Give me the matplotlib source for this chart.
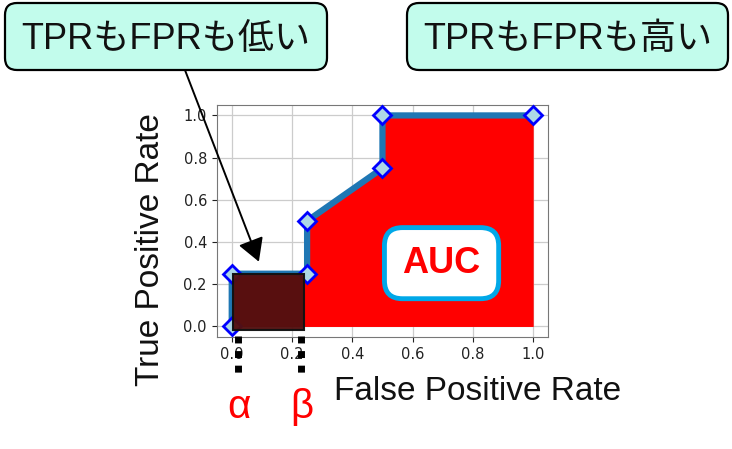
import matplotlib.pyplot as plt
from matplotlib.patches import FancyBboxPatch, Rectangle

# ROC curve points
fpr = [0.0, 0.0, 0.25, 0.25, 0.5, 0.5, 1.0]
tpr = [0.0, 0.25, 0.25, 0.5, 0.75, 1.0, 1.0]
ticks = [0.0, 0.2, 0.4, 0.6, 0.8, 1.0]

# highlighted low-threshold region and the alpha / beta markers
low_x = [0.005, 0.24]
low_y = [-0.015, 0.247]
alpha_x = 0.022
beta_x = 0.23

jp_font = ['Liberation Sans', 'Noto Sans CJK JP', 'DejaVu Sans']

fig = plt.figure(figsize=(7.32, 4.49), dpi=100)
ax = fig.add_axes([0.296, 0.2494, 0.453, 0.517])

ax.fill_between(fpr, tpr, 0, color='#ff0000', lw=0, zorder=1)
ax.plot(fpr, tpr, color='#1f77b4', lw=4.5, zorder=2)
ax.plot(fpr, tpr, ls='none', marker='D', ms=9.5, mfc='#add8e6', mec='#0000ff',
        mew=2, zorder=4, clip_on=False)
ax.add_patch(Rectangle((low_x[0], low_y[0]), low_x[1] - low_x[0], low_y[1] - low_y[0],
                       facecolor='#521010', edgecolor='#111111', lw=1.5, alpha=0.97,
                       zorder=5, clip_on=False))

ax.set_xlim(-0.05, 1.05)
ax.set_ylim(-0.05, 1.05)
ax.set_xticks(ticks)
ax.set_yticks(ticks)
ax.tick_params(labelsize=10.5, colors='#222222')
ax.grid(True, color='#cccccc', lw=0.9)
ax.set_axisbelow(True)
for s in ax.spines.values():
    s.set_color('#777777')

ax.text(0.696, 0.30, 'AUC', fontsize=26, fontweight='bold', color='#ff0000',
        family='Liberation Sans', ha='center', va='center', zorder=6,
        bbox=dict(boxstyle='round,pad=0.5,rounding_size=0.5', fc='white',
                  ec='#00a8e8', lw=3.5))

# dotted guides for alpha and beta
for x, lab in [(alpha_x, 'α'), (beta_x, 'β')]:
    ax.plot([x, x], [-0.044, -0.237], color='black', lw=5, ls=(0, (1, 1.1)),
            solid_capstyle='butt', dash_capstyle='butt', clip_on=False, zorder=6)
    ax.text(x + 0.003, -0.38, lab, fontsize=29, color='#ff0000', family='Liberation Sans',
            ha='center', va='center', clip_on=False)

fig.text(0.652, 0.109, 'False Positive Rate', fontsize=24, family='Liberation Sans',
         ha='center', va='baseline', color='#111111')
fig.text(0.2055, 0.445, 'True Positive Rate', fontsize=24, family='Liberation Sans',
         rotation=90, ha='center', va='center', color='#111111')

# callout boxes (in inches from the bottom-left corner)
r = 0.12
for (x0, x1), label in [((0.05, 3.27), 'TPRもFPRも低い'), ((4.07, 7.28), 'TPRもFPRも高い')]:
    y0, y1 = 3.79, 4.46
    fig.patches.append(FancyBboxPatch((x0 + r, y0 + r), x1 - x0 - 2 * r, y1 - y0 - 2 * r,
                                      boxstyle='round,pad=%g' % r, fc='#c2fcec', ec='black',
                                      lw=1.6, transform=fig.dpi_scale_trans, figure=fig))
    fig.text((x0 + x1) / 2 / 7.32, 1 - 39 / 449, label, fontsize=26, family=jp_font,
             ha='center', va='center', color='#111111')

arrow = dict(arrowstyle='-|>,head_length=0.7,head_width=0.4', mutation_scale=20,
             lw=1.4, color='black', shrinkA=0, shrinkB=0)
ax.annotate('', xy=(0.09, 0.307), xycoords='data', xytext=(0.2527, 0.844),
            textcoords='figure fraction', arrowprops=arrow, zorder=7)
ax.annotate('', xy=(0.90, 1.061), xycoords='data', xytext=(0.7855, 0.849),
            textcoords='figure fraction', arrowprops=arrow, zorder=7)

plt.savefig('out.png', dpi=100)
